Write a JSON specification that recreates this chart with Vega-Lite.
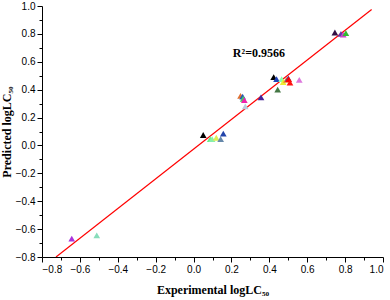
{
  "$schema": "https://vega.github.io/schema/vega-lite/v6.json",
  "width": 341,
  "height": 251,
  "autosize": {"type": "none"},
  "padding": {"left": 42, "top": 6, "right": 7, "bottom": 43},
  "background": "white",
  "config": {
    "view": {"stroke": null},
    "axis": {"grid": false, "domainColor": "black", "tickColor": "black", "labelColor": "black", "labelFont": "Liberation Sans", "labelFontSize": 10, "titleFont": "Liberation Serif", "titleFontSize": 12, "titleFontWeight": "bold", "titleColor": "black", "domainWidth": 1, "tickWidth": 1}
  },
  "datasets": {
    "pts": [
      {"exp": 0.051, "pred": 0.075, "c": "#000000"},
      {"exp": 0.088, "pred": 0.045, "c": "#66ee88"},
      {"exp": 0.098, "pred": 0.045, "c": "#88eeaa"},
      {"exp": 0.12, "pred": 0.055, "c": "#ddee55"},
      {"exp": 0.143, "pred": 0.045, "c": "#6688aa"},
      {"exp": 0.157, "pred": 0.085, "c": "#2244aa"},
      {"exp": 0.248, "pred": 0.355, "c": "#e07030"},
      {"exp": 0.259, "pred": 0.35, "c": "#2255bb"},
      {"exp": 0.262, "pred": 0.335, "c": "#44cc66"},
      {"exp": 0.268, "pred": 0.325, "c": "#ee22aa"},
      {"exp": 0.273, "pred": 0.28, "c": "#bbccdd"},
      {"exp": 0.356, "pred": 0.345, "c": "#442299"},
      {"exp": 0.423, "pred": 0.49, "c": "#000000"},
      {"exp": 0.438, "pred": 0.475, "c": "#2244bb"},
      {"exp": 0.444, "pred": 0.4, "c": "#447744"},
      {"exp": 0.465, "pred": 0.475, "c": "#88ffaa"},
      {"exp": 0.473, "pred": 0.455, "c": "#eeee33"},
      {"exp": 0.49, "pred": 0.47, "c": "#f08030"},
      {"exp": 0.5, "pred": 0.48, "c": "#2244bb"},
      {"exp": 0.502, "pred": 0.475, "c": "#ff0000"},
      {"exp": 0.509, "pred": 0.45, "c": "#ff1111"},
      {"exp": 0.558, "pred": 0.47, "c": "#dd77dd"},
      {"exp": 0.746, "pred": 0.81, "c": "#331144"},
      {"exp": 0.778, "pred": 0.8, "c": "#6633aa"},
      {"exp": 0.79, "pred": 0.795, "c": "#cc44cc"},
      {"exp": 0.804, "pred": 0.805, "c": "#33bb33"},
      {"exp": -0.643, "pred": -0.668, "c": "#aa33dd"},
      {"exp": -0.511, "pred": -0.645, "c": "#88ddbb"}
    ],
    "fit": [
      {"exp": -0.726, "pred": -0.8},
      {"exp": 0.94, "pred": 0.975}
    ],
    "lab": [
      {"exp": 0.345, "pred": 0.66, "t": "R²=0.9566"}
    ]
  },
  "layer": [
    {
      "data": {"name": "fit"},
      "mark": {"type": "line", "color": "#ff0000", "strokeWidth": 1.2, "clip": true},
      "encoding": {
        "x": {"field": "exp", "type": "quantitative", "scale": {"domain": [-0.8, 1.0], "nice": false, "zero": false},
          "axis": {"title": "Experimental logLC₅₀", "values": [-0.8,-0.6,-0.4,-0.2,0,0.2,0.4,0.6,0.8,1.0], "format": ".1f", "tickSize": 5, "labelPadding": 2, "titlePadding": 10}},
        "y": {"field": "pred", "type": "quantitative", "scale": {"domain": [-0.8, 1.0], "nice": false, "zero": false},
          "axis": {"title": "Predicted logLC₅₀", "values": [-0.8,-0.6,-0.4,-0.2,0,0.2,0.4,0.6,0.8,1.0], "format": ".1f", "tickSize": 5, "labelPadding": 2, "titlePadding": 2}}
      }
    },
    {
      "data": {"name": "pts"},
      "mark": {"type": "point", "shape": "triangle-up", "filled": true, "size": 45, "opacity": 1},
      "encoding": {
        "x": {"field": "exp", "type": "quantitative", "axis": {"orient": "bottom", "values": [-0.7,-0.5,-0.3,-0.1,0.1,0.3,0.5,0.7,0.9], "labels": false, "tickSize": 3, "domain": false, "title": null}},
        "y": {"field": "pred", "type": "quantitative", "axis": {"orient": "left", "values": [-0.7,-0.5,-0.3,-0.1,0.1,0.3,0.5,0.7,0.9], "labels": false, "tickSize": 3, "domain": false, "title": null}},
        "color": {"field": "c", "type": "nominal", "scale": null}
      }
    },
    {
      "data": {"name": "lab"},
      "mark": {"type": "text", "font": "Liberation Serif", "fontWeight": "bold", "fontSize": 12, "color": "black"},
      "encoding": {
        "x": {"field": "exp", "type": "quantitative", "axis": null},
        "y": {"field": "pred", "type": "quantitative", "axis": null},
        "text": {"field": "t"}
      }
    }
  ],
  "resolve": {"axis": {"x": "independent", "y": "independent"}}
}
